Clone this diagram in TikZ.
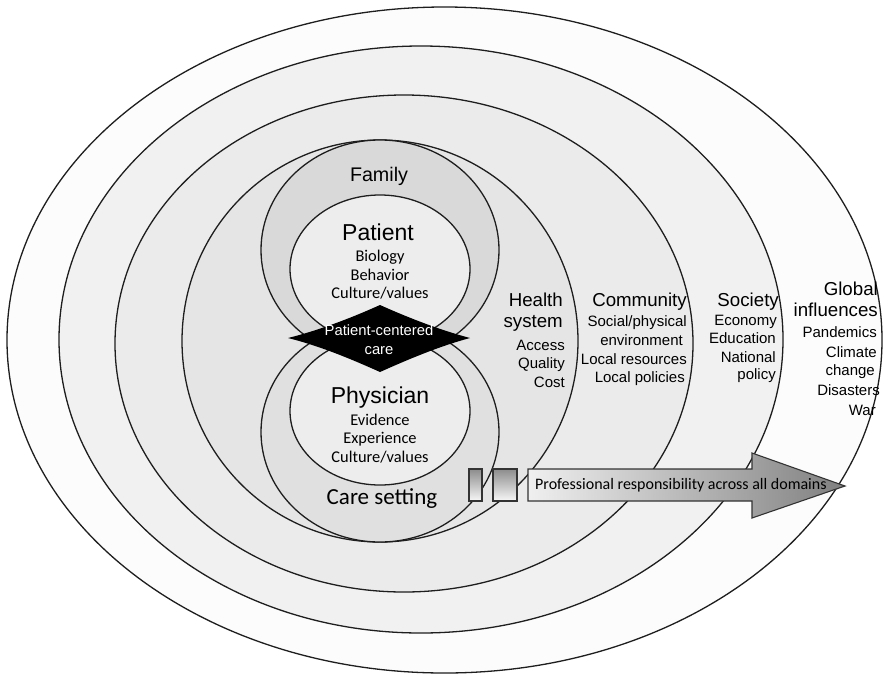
\documentclass[tikz,border=0pt]{standalone}
\usepackage{fontspec}
\setmainfont{Liberation Sans}
\newfontfamily\calib{Carlito}
\definecolor{ringG}{HTML}{FCFCFC}
\definecolor{ringS}{HTML}{F1F1F1}
\definecolor{ringC}{HTML}{EBEBEB}
\definecolor{ringH}{HTML}{E5E5E5}
\definecolor{lobeU}{HTML}{D9D9D9}
\definecolor{lobeL}{HTML}{E0E0E0}
\definecolor{lobeIn}{HTML}{EDEDED}
\definecolor{inkline}{HTML}{1E1E1E}
\begin{document}
\begin{tikzpicture}[x=1pt,y=-1pt,
  ring/.style={draw=inkline,line width=1.3pt},
  lobe/.style={draw=inkline,line width=1.3pt},
  boxline/.style={draw=black!80,line width=1.1pt},
  ttl/.style={inner sep=0pt,font=\fontsize{18.7}{22}\selectfont},
  itm/.style={inner sep=0pt,font=\fontsize{15}{18}\selectfont},
  big/.style={inner sep=0pt,font=\fontsize{23}{26}\selectfont},
  cal/.style={inner sep=0pt,font=\calib\fontsize{16.4}{19}\selectfont},
  calbig/.style={inner sep=0pt,font=\calib\fontsize{23}{26}\selectfont},
  pcc/.style={inner sep=0pt,text=white,font=\fontsize{14.8}{17}\selectfont}]
\useasboundingbox (0,0) rectangle (888,675);
\fill[white] (0,0) rectangle (888,675);
% nested ellipses
\draw[ring,fill=ringG] (444.5,340) ellipse [x radius=437.5, y radius=333];
\draw[ring,fill=ringS] (421,339.5) ellipse [x radius=362, y radius=293.5];
\draw[ring,fill=ringC] (404,343.5) ellipse [x radius=289, y radius=248.5];
\draw[ring,fill=ringH] (380,341) ellipse [x radius=198, y radius=201];
% figure-eight lobes
\begin{scope}
  \clip (0,0) rectangle (888,340);
  \draw[lobe,fill=lobeU] (380,250) ellipse [x radius=119, y radius=110];
  \draw[lobe,fill=lobeIn] (380,269) ellipse [x radius=90, y radius=74];
\end{scope}
\begin{scope}
  \clip (0,340) rectangle (888,675);
  \draw[lobe,fill=lobeL] (380,432) ellipse [x radius=119, y radius=110];
  \draw[lobe,fill=lobeIn] (380,411) ellipse [x radius=90, y radius=74];
\end{scope}
% diamond
\fill[black] (288,338) .. controls (320,330) and (351,318) .. (380,305)
  .. controls (409,318) and (440,330) .. (470,338)
  .. controls (440,346) and (409,359) .. (380,372)
  .. controls (351,359) and (320,346) .. (288,338) -- cycle;
\node[pcc,anchor=base] (pcc1) at (379,335) {Patient-centered};
\node[pcc,anchor=base] (pcc2) at (379,354) {care};
% centre texts
\node[inner sep=0pt,font=\fontsize{19.7}{22}\selectfont,anchor=base] (fam) at (379,181.5) {Family};
\node[big,anchor=base] (pat) at (378,240) {Patient};
\node[cal,anchor=base] (pat1) at (380,261) {Biology};
\node[cal,anchor=base] (pat2) at (380,280) {Behavior};
\node[cal,anchor=base] (pat3) at (380,298.5) {Culture/values};
\node[big,anchor=base] (phy) at (380,403) {Physician};
\node[cal,anchor=base] (phy1) at (380,425) {Evidence};
\node[cal,anchor=base] (phy2) at (380,443) {Experience};
\node[cal,anchor=base] (phy3) at (380,462) {Culture/values};
\node[calbig,anchor=base] (care) at (382,504) {Care setting};
% health system
\node[ttl,anchor=base east] (hs1) at (563,306.7) {Health};
\node[ttl,anchor=base east] (hs2) at (563,327) {system};
\node[itm,anchor=base east] (hs3) at (565,350) {Access};
\node[itm,anchor=base east] (hs4) at (565,368.5) {Quality};
\node[itm,anchor=base east] (hs5) at (565,387) {Cost};
% community
\node[ttl,anchor=base east] (co1) at (687,306.7) {Community};
\node[itm,anchor=base east] (co2) at (687,326) {Social/physical};
\node[itm,anchor=base east] (co3) at (683,345) {environment};
\node[itm,anchor=base east] (co4) at (687,364) {Local resources};
\node[itm,anchor=base east] (co5) at (685,382.7) {Local policies};
% society
\node[ttl,anchor=base east] (so1) at (779,306) {Society};
\node[itm,anchor=base east] (so2) at (777,325) {Economy};
\node[itm,anchor=base east] (so3) at (776,343.5) {Education};
\node[itm,anchor=base east] (so4) at (776,362.5) {National};
\node[itm,anchor=base east] (so5) at (776,379) {policy};
% global
\node[ttl,anchor=base east] (gl1) at (878,295) {Global};
\node[ttl,anchor=base east] (gl2) at (878,316.7) {influences};
\node[itm,anchor=base east] (gl3) at (877,337) {Pandemics};
\node[itm,anchor=base east] (gl4) at (877,357) {Climate};
\node[itm,anchor=base east] (gl5) at (875,375) {change};
\node[itm,anchor=base east] (gl6) at (880,395) {Disasters};
\node[itm,anchor=base east] (gl7) at (876,415) {War};
% boxes and arrow
\draw[boxline,top color=black!45,bottom color=black!3] (469,469) rectangle (482,501);
\draw[boxline,top color=black!45,bottom color=black!3] (493,469) rectangle (517,501);
\draw[boxline,left color=black!6,right color=black!50]
  (528,469) -- (752,469) -- (752,453) -- (845,486) -- (752,518) -- (752,501) -- (528,501) -- cycle;
\node[inner sep=0pt,font=\calib\fontsize{16}{19}\selectfont,anchor=base west] (prof) at (535,489) {Professional responsibility across all domains};
\end{tikzpicture}
\end{document}
